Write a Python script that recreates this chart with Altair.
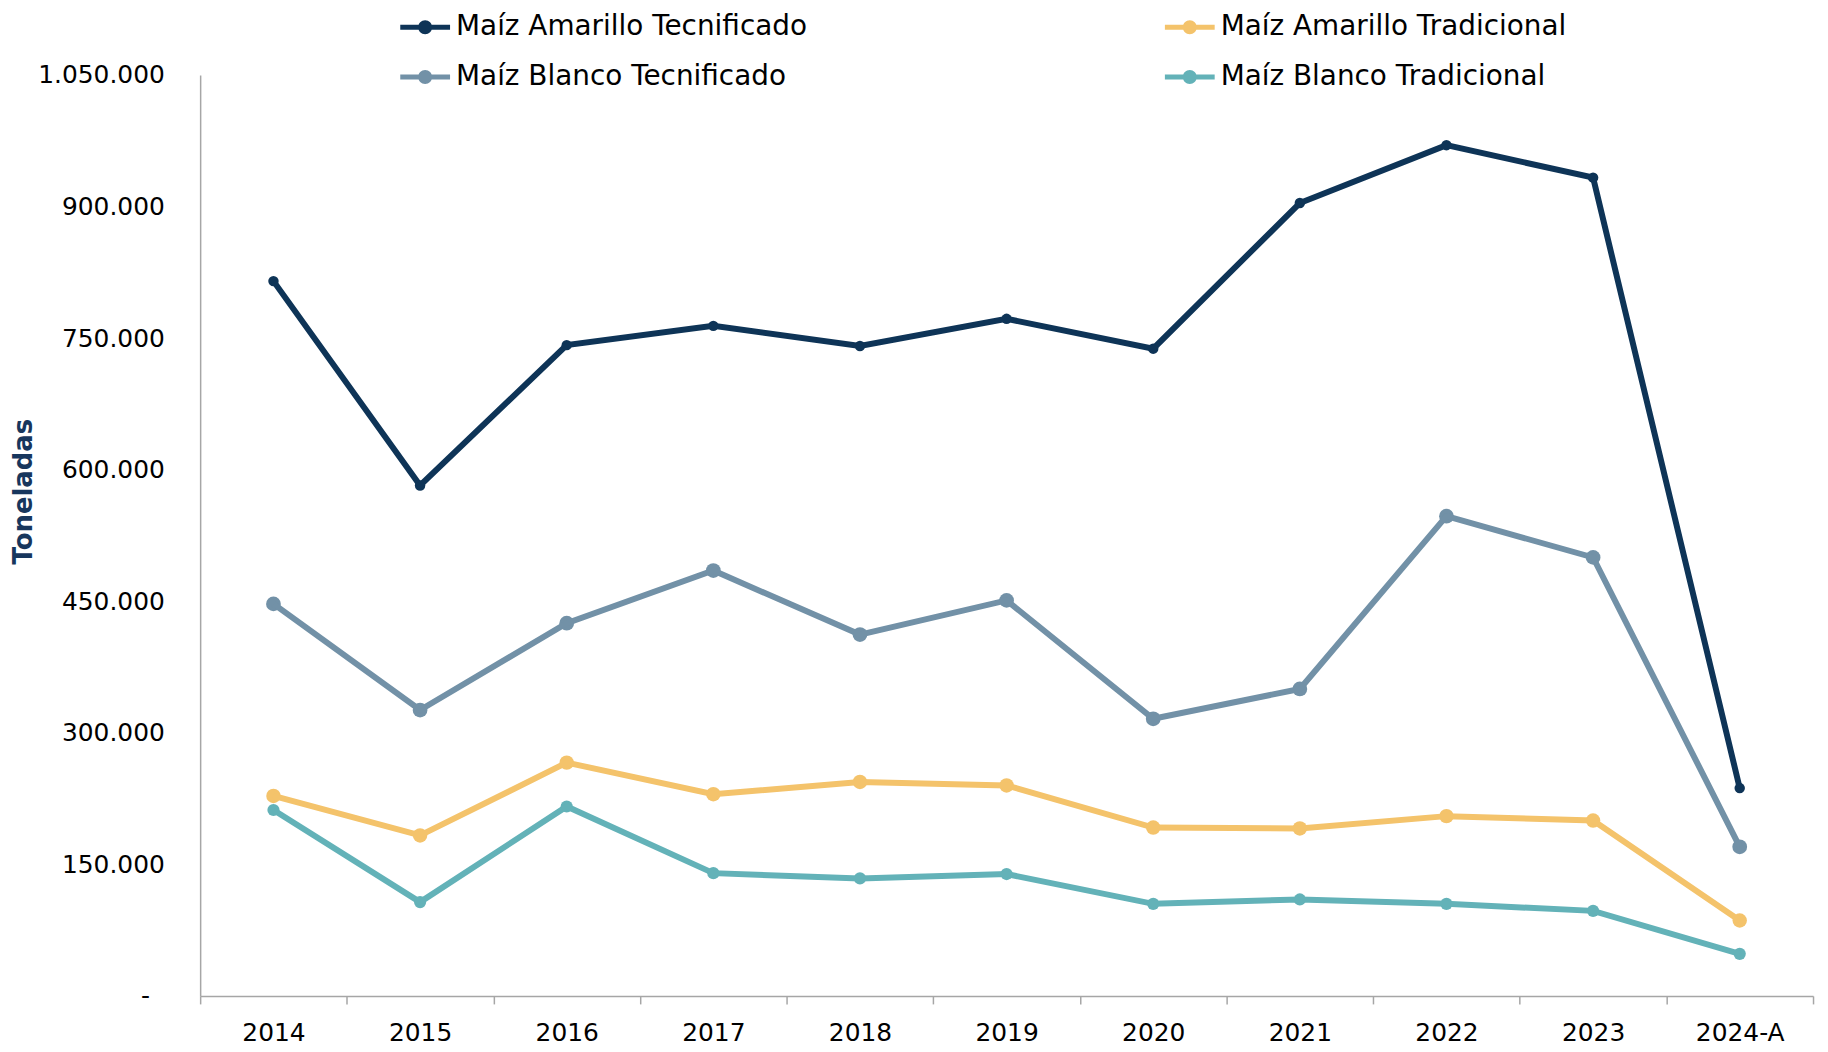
import altair as alt
import pandas as pd

FONT = "DejaVu Sans"

years = ["2014", "2015", "2016", "2017", "2018", "2019", "2020", "2021", "2022", "2023", "2024-A"]
amarillo_tec = [815000, 582000, 742000, 764000, 741000, 772000, 738000, 904000, 970000, 933000, 237000]
blanco_tec = [447000, 326000, 425000, 485000, 412000, 451000, 316000, 350000, 547000, 500000, 170000]
amarillo_trad = [228000, 183000, 266000, 230000, 244000, 240000, 192000, 191000, 205000, 200000, 86000]
blanco_trad = [212000, 107000, 216000, 140000, 134000, 139000, 105000, 110000, 105000, 97000, 48000]

# order chosen so the 2-column legend fills column by column like the reference
series_names = ["Maíz Amarillo Tecnificado", "Maíz Blanco Tecnificado",
                "Maíz Amarillo Tradicional", "Maíz Blanco Tradicional"]
series_values = [amarillo_tec, blanco_tec, amarillo_trad, blanco_trad]
colors = ["#0e3457", "#7291a7", "#f4c36b", "#63b2b8"]
marker_sizes = [110, 220, 210, 150]
y_ticks = [0, 150000, 300000, 450000, 600000, 750000, 900000, 1050000]

rows = []
for name, vals, sz in zip(series_names, series_values, marker_sizes):
    for yr, v in zip(years, vals):
        rows.append({"Año": yr, "Toneladas": v, "Serie": name, "sz": sz})
df = pd.DataFrame(rows)

LEGEND_PATH = ("M-1,-0.1H1V0.1H-1Z "
               "M-0.28,0A0.28,0.28 0 1,1 0.28,0A0.28,0.28 0 1,1 -0.28,0Z")

x_enc = alt.X(
    "Año:N", sort=years,
    scale=alt.Scale(paddingInner=0, paddingOuter=0),
    axis=alt.Axis(title=None, labelAngle=0, labelFontSize=25, labelColor="#000000",
                  labelFont=FONT, tickBand="extent", tickSize=8, tickWidth=1.5,
                  tickColor="#a6a6a6", domainColor="#a6a6a6", domainWidth=1.5,
                  labelPadding=17, grid=False),
)
y_enc = alt.Y(
    "Toneladas:Q",
    scale=alt.Scale(domain=[0, 1050000], nice=False, zero=True),
    axis=alt.Axis(values=y_ticks, format=",.0f",
                  labelExpr="datum.value === 0 ? '-' : datum.label",
                  labelFontSize=25, labelColor="#000000", labelFont=FONT,
                  labelPadding={"condition": {"test": "datum.value === 0", "value": 51},
                                "value": 36},
                  ticks=False, grid=False,
                  domainColor="#a6a6a6", domainWidth=1.5,
                  title="Toneladas", titleFontSize=26, titleFont=FONT,
                  titleFontWeight="bold", titleColor="#17365d",
                  titleX=-177, titleY=418, titleAngle=270,
                  titleAlign="center", titleBaseline="middle"),
)
color_scale = alt.Scale(domain=series_names, range=colors)

legend = alt.Legend(
    title=None, orient="none", legendX=201, legendY=-73, columns=2,
    symbolType=LEGEND_PATH, symbolSize=2500, symbolStrokeWidth=0,
    symbolOpacity=1, labelFontSize=28, labelFont=FONT, labelColor="#000000",
    labelOffset=6, labelLimit=0, columnPadding=359, rowPadding=11,
)

points = alt.Chart(df).mark_point(filled=True, opacity=1, strokeWidth=0).encode(
    x=x_enc, y=y_enc,
    color=alt.Color("Serie:N", scale=color_scale, legend=legend),
    size=alt.Size("sz:Q", scale=None),
)
lines = alt.Chart(df).mark_line(strokeWidth=6).encode(
    x=x_enc, y=y_enc,
    color=alt.Color("Serie:N", scale=color_scale, legend=legend),
)

chart = alt.layer(points, lines).properties(
    width=1620, height=925,
    autosize=alt.AutoSizeParams(type="none"),
    padding={"left": 193, "top": 65, "right": 7, "bottom": 54},
).configure(font=FONT).configure_view(stroke=None).configure_legend(padding=0)

chart.save("out.html", embed_options={
    "renderer": "svg", "actions": False,
    "formatLocale": {"decimal": ",", "thousands": ".", "grouping": [3],
                     "currency": ["$", ""]},
})
